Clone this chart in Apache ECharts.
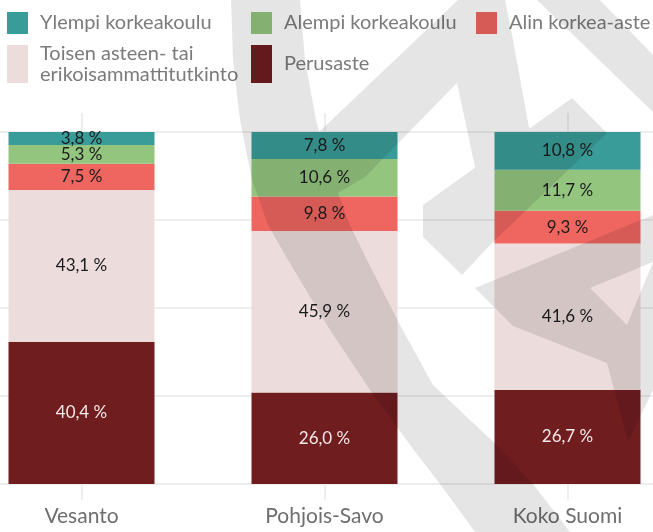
<!DOCTYPE html>
<html>
<head>
<meta charset="utf-8">
<script src="https://cdn.jsdelivr.net/npm/echarts@6/dist/echarts.min.js"></script>
<style>
html, body { margin: 0; padding: 0; background: #fff; overflow: hidden; width: 653px; height: 532px; }
/* kaavio on leveämpi kuin ikkuna: reunimmaiset pylväät rajautuvat kuten alkuperäisessä */
#myChart { position: absolute; left: -40px; top: 0; width: 729px; height: 532px; }
</style>
</head>
<body>
<div id="myChart"></div>
<script>
// data
var categories = ['Vesanto', 'Pohjois-Savo', 'Koko Suomi'];
var perusaste = [40.4, 26.0, 26.7];
var toinenAste = [43.1, 45.9, 41.6];
var alinKorkea = [7.5, 9.8, 9.3];
var alempiKorkea = [5.3, 10.6, 11.7];
var ylempiKorkea = [3.8, 7.8, 10.8];
var yTicks = [0, 25, 50, 75, 100];

var fontName = 'Lato, "Noto Sans", sans-serif';
var toisenName = 'Toisen asteen- tai erikoisammattitutkinto';
var offsetX = 40; // ikkunan vasen reuna kaavion koordinaateissa

// tausta-logo (vesileima), ikkunan koordinaateissa
var logoPolys = [
  [[231,0],[300,0],[305,60],[316,120],[333,180],[350,225],[367,260],[400,325],[433,385],[470,420],[500,448],[533,484],[570,532],
   [475,532],[440,484],[410,445],[372,393],[330,330],[288,260],[268,225],[252,180],[240,120],[233,60]],
  [[458,0],[505,0],[513,40],[535,160],[482,200],[457,83],[365,177],[318,205],[300,150]],
  [[572,98],[607,133],[492,243],[462,275],[423,237],[423,205]],
  [[475,288],[653,215],[653,262],[590,288]],
  [[475,288],[590,288],[627,325],[607,363],[513,326]],
  [[653,262],[653,390],[628,442],[607,363],[627,325]],
  [[537,0],[600,0],[653,55],[653,112]]
];
var logoPath = 'M0 0 L0 0 Z M653 532 L653 532 Z ' + logoPolys.map(function (p) {
  return 'M' + p.map(function (pt) { return pt[0] + ' ' + pt[1]; }).join(' L') + ' Z';
}).join(' ');

function fmt(p) {
  return p.value.toFixed(1).replace('.', ',') + ' %';
}

function makeSeries(name, data, color, textColor) {
  return {
    name: name,
    type: 'bar',
    stack: 'koulutus',
    barWidth: 146,
    data: data,
    itemStyle: { color: color },
    emphasis: { disabled: true },
    label: {
      show: true,
      position: 'inside',
      formatter: fmt,
      color: textColor,
      fontFamily: fontName,
      fontSize: 17
    }
  };
}

function makeLegend(name, left, top, h) {
  return {
    data: [name],
    left: left + offsetX,
    top: top,
    padding: 0,
    itemWidth: 21,
    itemHeight: h,
    selectedMode: false,
    icon: 'rect',
    formatter: function (n) {
      return n === toisenName ? 'Toisen asteen- tai\nerikoisammattitutkinto' : n;
    },
    textStyle: {
      color: '#7b7b7b',
      fontFamily: fontName,
      fontSize: 20,
      lineHeight: 21,
      padding: [0, 0, 0, 7]
    }
  };
}

var chartDom = document.getElementById('myChart');
var myChart = echarts.init(chartDom);
var option = {
  animation: false,
  grid: { left: 0, right: 0, top: 132, bottom: 48 },
  legend: [
    makeLegend('Ylempi korkeakoulu', 7, 12, 22),
    makeLegend('Alempi korkeakoulu', 251, 12, 22),
    makeLegend('Alin korkea-aste', 476, 12, 22),
    makeLegend(toisenName, 7, 43, 38),
    makeLegend('Perusaste', 251, 45, 38)
  ],
  xAxis: [
    {
      type: 'category',
      data: categories,
      axisLine: { show: false },
      axisTick: { show: true, alignWithLabel: true, length: 16, lineStyle: { color: '#eeeeee', width: 2 } },
      axisLabel: { color: '#6e6e6e', fontFamily: fontName, fontSize: 21, margin: 22 }
    },
    {
      type: 'category',
      position: 'top',
      data: categories,
      axisLine: { show: false },
      axisTick: { show: true, alignWithLabel: true, length: 19, lineStyle: { color: '#eeeeee', width: 2 } },
      axisLabel: { show: false }
    }
  ],
  yAxis: {
    type: 'value',
    min: yTicks[0],
    max: yTicks[yTicks.length - 1],
    interval: yTicks[1] - yTicks[0],
    axisLabel: { show: false },
    axisLine: { show: false },
    axisTick: { show: false },
    splitLine: { lineStyle: { color: '#eeeeee', width: 2 } }
  },
  series: [
    makeSeries('Perusaste', perusaste, '#701d20', '#f5e8e8'),
    makeSeries(toisenName, toinenAste, '#ecdcdc', '#1c1c1c'),
    makeSeries('Alin korkea-aste', alinKorkea, '#ef6660', '#1c1c1c'),
    makeSeries('Alempi korkeakoulu', alempiKorkea, '#94c57f', '#1c1c1c'),
    makeSeries('Ylempi korkeakoulu', ylempiKorkea, '#3a9c98', '#1c1c1c'),
    {
      // vesileima koko kuvan päällä
      type: 'custom',
      coordinateSystem: 'none',
      silent: true,
      z: 50,
      data: [0],
      renderItem: function () {
        return {
          type: 'path',
          shape: { pathData: logoPath, x: offsetX, y: 0, width: 653, height: 532, layout: 'cover' },
          style: { fill: 'rgba(0,0,0,0.1)' }
        };
      }
    }
  ]
};

option && myChart.setOption(option);
window.addEventListener('resize', function () {
  myChart.resize();
});
</script>
</body>
</html>
